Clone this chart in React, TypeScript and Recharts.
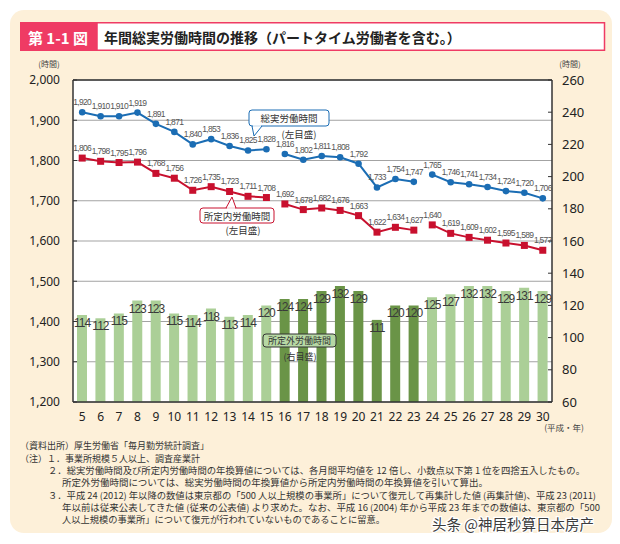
import React from 'react';
import {
  ComposedChart, Bar, Line, XAxis, YAxis, CartesianGrid, LabelList, Cell, ReferenceLine,
} from 'recharts';

// Heisei years 5..30
const years = ['5', '6', '7', '8', '9', '10', '11', '12', '13', '14', '15', '16', '17', '18', '19', '20', '21', '22', '23', '24', '25', '26', '27', '28', '29', '30'];
const totalHours = [1920, 1910, 1910, 1919, 1891, 1871, 1840, 1853, 1836, 1825, 1828, 1816, 1802, 1811, 1808, 1792, 1733, 1754, 1747, 1765, 1746, 1741, 1734, 1724, 1720, 1706];
const scheduledHours = [1806, 1798, 1795, 1796, 1768, 1756, 1726, 1735, 1723, 1711, 1708, 1692, 1678, 1682, 1676, 1663, 1622, 1634, 1627, 1640, 1619, 1609, 1602, 1595, 1589, 1577];
const overtimeHours = [114, 112, 115, 123, 123, 115, 114, 118, 113, 114, 120, 124, 124, 129, 132, 129, 111, 120, 120, 125, 127, 132, 132, 129, 131, 129];
// series are broken between 15/16 and 23/24
const segmentFirstYear = ['5', '16', '24'];
const darkSegment = 1;
const leftTicks = [1200, 1300, 1400, 1500, 1600, 1700, 1800, 1900, 2000];
const rightTicks = [60, 80, 100, 120, 140, 160, 180, 200, 220, 240, 260];

const BLUE = '#1b6db4';
const RED = '#c8102e';
const LIGHT_GREEN = '#abcf97';
const DARK_GREEN = '#6a9447';
const NUM_FONT = '"Noto Sans", sans-serif';
const NARROW = '"Liberation Sans Narrow", "Liberation Sans", sans-serif';
const JP = '"Noto Sans CJK JP", sans-serif';

const segmentOf = (i: number) => {
  let s = 0;
  segmentFirstYear.forEach((y, k) => {
    if (years.indexOf(y) <= i) s = k;
  });
  return s;
};

const data = years.map((year, i) => {
  const seg = segmentOf(i);
  const row: Record<string, any> = { year, overtime: overtimeHours[i], seg };
  segmentFirstYear.forEach((_, k) => {
    row['total' + k] = seg === k ? totalHours[i] : null;
    row['sched' + k] = seg === k ? scheduledHours[i] : null;
  });
  return row;
});

const fmt = (v: number) => v.toLocaleString('en-US');

const PointLabel = (props: any) => {
  const { x, y, value } = props;
  if (value == null || x == null || y == null) return null;
  return (
    <text x={x} y={y - 10} textAnchor="middle" dominantBaseline="central" fontSize={8.5} letterSpacing={-0.7}
      fill="#555" fontFamily={NARROW}>
      {fmt(value)}
    </text>
  );
};

const BarLabel = (props: any) => {
  const { x, y, width, value } = props;
  return (
    <text x={x + width / 2} y={y + 8} textAnchor="middle" dominantBaseline="central" fontSize={12} letterSpacing={-1}
      fill="#3a3a3a" fontFamily={NARROW}>
      {value}
    </text>
  );
};

const SquareDot = (props: any) => {
  const { cx, cy, index } = props;
  if (cx == null || cy == null || props.value == null) return <g key={'sq' + index} />;
  return <rect key={'sq' + index} x={cx - 3.5} y={cy - 3.5} width={7} height={7} fill={RED} />;
};

const CircleDot = (props: any) => {
  const { cx, cy, index } = props;
  if (cx == null || cy == null || props.value == null) return <g key={'c' + index} />;
  return <circle key={'c' + index} cx={cx} cy={cy} r={3.3} fill={BLUE} />;
};

const notes: { x: number; y: number; text: string; len?: number }[] = [
  { x: 20, y: 445, text: '（資料出所）厚生労働省「毎月勤労統計調査」' },
  { x: 20, y: 458, text: '（注）１．事業所規模５人以上、調査産業計' },
  { x: 48, y: 470, text: '２．総実労働時間及び所定内労働時間の年換算値については、各月間平均値を 12 倍し、小数点以下第 1 位を四捨五入したもの。', len: 537 },
  { x: 62, y: 482, text: '所定外労働時間については、総実労働時間の年換算値から所定内労働時間の年換算値を引いて算出。', len: 426 },
  { x: 48, y: 495, text: '３．平成 24 (2012) 年以降の数値は東京都の「500 人以上規模の事業所」について復元して再集計した値 (再集計値)、平成 23 (2011)', len: 548 },
  { x: 62, y: 507, text: '年以前は従来公表してきた値 (従来の公表値) より求めた。なお、平成 16 (2004) 年から平成 23 年までの数値は、東京都の「500', len: 538 },
  { x: 62, y: 519, text: '人以上規模の事業所」について復元が行われていないものであることに留意。', len: 323 },
];

const Overlay = () => (
  <svg width={620} height={544} style={{ position: 'absolute', left: 0, top: 0, pointerEvents: 'none' }}>
    {/* title */}
    <rect x={20} y={22} width={77} height={29} fill="#ef3b64" />
    <rect x={97} y={22.75} width={507.5} height={27.5} fill="#fff" stroke="#ef3b64" strokeWidth={1.5} />
    <text x={58} y={37} textAnchor="middle" dominantBaseline="central" fontSize={15} fontWeight={600} fill="#fff" fontFamily={JP}>第 1-1 図</text>
    <text x={104} y={37} dominantBaseline="central" fontSize={14} fontWeight={600} fill="#222" fontFamily={JP}>年間総実労働時間の推移（パートタイム労働者を含む。）</text>
    {/* axis unit labels */}
    <text x={49} y={63} textAnchor="middle" dominantBaseline="central" fontSize={8} fill="#444" fontFamily={JP}>(時間)</text>
    <text x={570} y={63} textAnchor="middle" dominantBaseline="central" fontSize={8} fill="#444" fontFamily={JP}>(時間)</text>
    <text x={564} y={427} textAnchor="middle" dominantBaseline="central" fontSize={8.5} fill="#444" fontFamily={JP}>(平成・年)</text>
    {/* callout: total */}
    <path d="M252,126 L254,136 L262,126" fill="#fff" stroke={BLUE} strokeWidth={1} />
    <rect x={249} y={110} width={80} height={16} rx={3} fill="#fff" stroke={BLUE} strokeWidth={1} />
    <line x1={253} y1={126} x2={261} y2={126} stroke="#fff" strokeWidth={1.5} />
    <text x={289} y={118} textAnchor="middle" dominantBaseline="central" fontSize={9.5} fill="#333" fontFamily={JP}>総実労働時間</text>
    <text x={299} y={134} textAnchor="middle" dominantBaseline="central" fontSize={9.5} fill="#333" fontFamily={JP}>(左目盛)</text>
    {/* callout: scheduled */}
    <path d="M226,208 L232,197 L236,208" fill="#fff" stroke={RED} strokeWidth={1} />
    <rect x={200} y={208} width={74} height={15} rx={3} fill="#fff" stroke={RED} strokeWidth={1} />
    <line x1={227} y1={208} x2={235} y2={208} stroke="#fff" strokeWidth={1.5} />
    <text x={237} y={215.5} textAnchor="middle" dominantBaseline="central" fontSize={9.5} fill="#333" fontFamily={JP}>所定内労働時間</text>
    <text x={243} y={230} textAnchor="middle" dominantBaseline="central" fontSize={9.5} fill="#333" fontFamily={JP}>(左目盛)</text>
    {/* callout: overtime */}
    <rect x={263} y={334} width={73} height={13} rx={3} fill="#b6d8a4" stroke="#333" strokeWidth={1} />
    <text x={299.5} y={340.5} textAnchor="middle" dominantBaseline="central" fontSize={9} fill="#333" fontFamily={JP}>所定外労働時間</text>
    <text x={300} y={356} textAnchor="middle" dominantBaseline="central" fontSize={9} fill="#333" fontFamily={JP}>(右目盛)</text>
    {/* notes */}
    {notes.map((n, i) => (
      <text key={i} x={n.x} y={n.y} dominantBaseline="central" fontSize={9} fill="#333" fontFamily={JP}
        textLength={n.len} lengthAdjust={n.len ? 'spacingAndGlyphs' : undefined}>
        {n.text}
      </text>
    ))}
    <text x={432} y={523} dominantBaseline="central" fontSize={14.5} fill="#3c3c3c" stroke="#fff" strokeWidth={2.5}
      paintOrder="stroke" fontFamily='"Noto Sans CJK SC", sans-serif'>头条 @神居秒算日本房产</text>
  </svg>
);

export default function App() {
  return (
    <div style={{ position: 'fixed', left: 0, top: 0, width: 620, height: 544, background: '#fff' }}>
      <div style={{ position: 'absolute', left: 10, top: 10, width: 602, height: 523, background: '#fdf0d9', borderRadius: 14 }} />
      <div style={{ position: 'absolute', left: 0, top: 0 }}>
        <ComposedChart width={620} height={544} data={data} margin={{ top: 80, right: 0, bottom: 122, left: 0 }} barCategoryGap={0}>
          <CartesianGrid yAxisId="left" vertical={false} horizontal stroke="#a3a3a3" strokeWidth={1} fill="#fff" fillOpacity={1} />
          <XAxis dataKey="year" height={20} tickLine={false} axisLine={{ stroke: '#333', strokeWidth: 1.5 }}
            tick={{ fontSize: 12, fill: '#222', fontFamily: NUM_FONT }} tickMargin={4} interval={0} />
          <YAxis yAxisId="left" orientation="left" width={73} domain={[1200, 2000]} ticks={leftTicks}
            tickFormatter={fmt} tickSize={-4} tickMargin={17} axisLine={{ stroke: '#333', strokeWidth: 1.5 }}
            tickLine={{ stroke: '#333' }} tick={{ fontSize: 12, fill: '#222', fontFamily: NUM_FONT }} />
          <YAxis yAxisId="right" orientation="right" width={68} domain={[60, 260]} ticks={rightTicks}
            tickSize={-4} tickMargin={14} axisLine={{ stroke: '#333', strokeWidth: 1.5 }}
            tickLine={{ stroke: '#333' }} tick={{ fontSize: 13, fill: '#222', fontFamily: NUM_FONT, textAnchor: 'start' }} />
          <ReferenceLine yAxisId="left" y={2000} stroke="#333" strokeWidth={1.5} />
          <Bar yAxisId="right" dataKey="overtime" barSize={10} isAnimationActive={false}>
            {data.map((d, i) => (
              <Cell key={i} fill={d.seg === darkSegment ? DARK_GREEN : LIGHT_GREEN} />
            ))}
            <LabelList dataKey="overtime" content={BarLabel} />
          </Bar>
          {segmentFirstYear.map((_, k) => (
            <Line key={'t' + k} yAxisId="left" dataKey={'total' + k} stroke={BLUE} strokeWidth={2}
              dot={CircleDot} activeDot={false} connectNulls={false} isAnimationActive={false}>
              <LabelList dataKey={'total' + k} content={PointLabel} />
            </Line>
          ))}
          {segmentFirstYear.map((_, k) => (
            <Line key={'s' + k} yAxisId="left" dataKey={'sched' + k} stroke={RED} strokeWidth={2}
              dot={SquareDot} activeDot={false} connectNulls={false} isAnimationActive={false}>
              <LabelList dataKey={'sched' + k} content={PointLabel} />
            </Line>
          ))}
        </ComposedChart>
      </div>
      <Overlay />
    </div>
  );
}
